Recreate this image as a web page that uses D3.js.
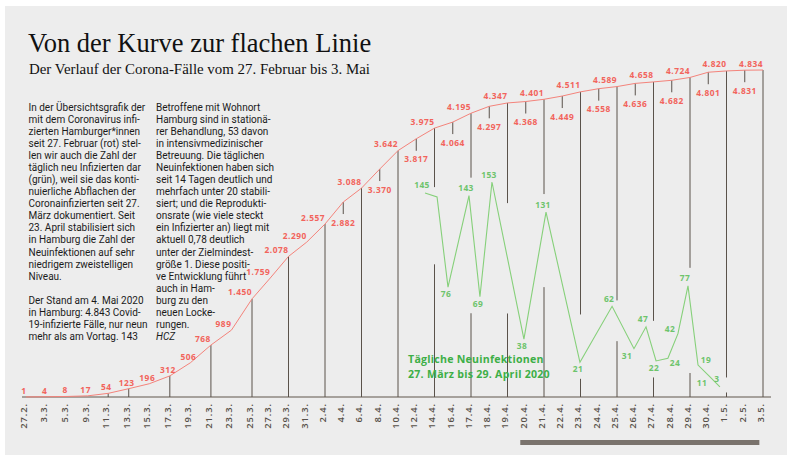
<!DOCTYPE html>
<html><head><meta charset="utf-8">
<script src="https://cdn.jsdelivr.net/npm/d3@7"></script>
<style>
html,body{margin:0;padding:0;background:#ffffff;}
svg{display:block;}
</style></head>
<body>
<svg id="chart" width="796" height="460"></svg>
<script>
// ---------- DATA ----------
const categories = ["27.2.","3.3.","5.3.","9.3.","11.3.","13.3.","15.3.","17.3.","19.3.","21.3.",
  "23.3.","25.3.","27.3.","29.3.","31.3.","2.4.","4.4.","6.4.","8.4.","10.4.",
  "12.4.","14.4.","16.4.","17.4.","18.4.","19.4.","20.4.","21.4.","22.4.","23.4.",
  "24.4.","25.4.","26.4.","27.4.","28.4.","29.4.","30.4.","1.5.","2.5.","3.5."];
const cumulative = [1,4,8,17,54,123,196,312,506,768,
  989,1450,1759,2078,2290,2557,2882,3088,3370,3642,
  3817,3975,4064,4195,4297,4347,4368,4401,4449,4511,
  4558,4589,4636,4658,4682,4724,4801,4820,4831,4834];
const dropLineDates = ["11.3.","13.3.","17.3.","21.3.","25.3.","29.3.","2.4.","6.4.","10.4.",
  "14.4.","17.4.","19.4.","21.4.","23.4.","25.4.","27.4.","29.4.","1.5.","3.5."];
const belowLabelDates = ["4.4.","8.4.","12.4.","16.4.","18.4.","20.4.","22.4.","24.4.",
  "26.4.","28.4.","30.4.","2.5."];
// daily new infections (green), position given in axis-category units
const greenValues = [145,142,76,143,69,153,38,131,21,62,31,47,22,24,42,77,19,11,3];
const greenPos    = [20.48,21.14,21.74,22.89,23.49,24.15,25.90,27.11,28.97,30.73,
  31.93,32.59,33.14,33.79,34.34,34.89,35.44,36.04,36.64];
const greenLabelPlace = ["n",null,"s","n","s","n","s","n","s","n","sw","n","s","se","nw","n","ne","sw","n"];

const titleText = "Von der Kurve zur flachen Linie";
const subtitleText = "Der Verlauf der Corona-Fälle vom 27. Februar bis 3. Mai";
const column1 = ["In der Übersichtsgrafik der","mit dem Coronavirus infi-","zierten Hamburger*innen",
  "seit 27. Februar (rot) stel-","len wir auch die Zahl der","täglich neu Infizierten dar",
  "(grün), weil sie das konti-","nuierliche Abflachen der","Coronainfizierten seit 27.",
  "März dokumentiert. Seit","23. April stabilisiert sich","in Hamburg die Zahl der",
  "Neuinfektionen auf sehr","niedrigem zweistelligen","Niveau.","",
  "Der Stand am 4. Mai 2020","in Hamburg: 4.843 Covid-","19-infizierte Fälle, nur neun","mehr als am Vortag. 143"];
const column2 = ["Betroffene mit Wohnort","Hamburg sind in stationä-","rer Behandlung, 53 davon",
  "in intensivmedizinischer","Betreuung. Die täglichen","Neuinfektionen haben sich",
  "seit 14 Tagen deutlich und","mehrfach unter 20 stabili-","siert; und die Reprodukti-",
  "onsrate (wie viele steckt","ein Infizierter an) liegt mit","aktuell 0,78 deutlich",
  "unter der Zielmindest-","größe 1. Diese positi-","ve Entwicklung führt","auch in Ham-",
  "burg zu den","neuen Locke-","rungen.","HCZ"];
const greenHeading = ["Tägliche Neuinfektionen","27. März bis 29. April 2020"];

// ---------- SETUP ----------
const svg = d3.select("#chart");
const RED = "#f2645c", RED_LINE = "#f4837b", GREEN = "#6ec46c", GREEN_LINE = "#86d07a",
      GREEN_HEAD = "#3daf47", DARK = "#5a524b", BG = "#ededed";
const numFmt = d3.formatLocale({decimal:",", thousands:".", grouping:[3], currency:["","€"]}).format(",d");

svg.append("rect").attr("x",5).attr("y",6).attr("width",782).attr("height",449).attr("fill",BG);

const x = d3.scaleLinear().domain([0, 11, 39]).range([26, 252, 763]);
const yRed = d3.scaleLinear().domain([0, 4834]).range([397, 70]);
const yGreen = d3.scaleLinear().domain([0, 153]).range([391, 182]);
const baseY = yRed(0);

// ---------- TEXT ----------
svg.append("text").attr("x",28).attr("y",52).text(titleText)
  .attr("font-family","'Liberation Serif', 'DejaVu Serif', serif").attr("font-size",26.5).attr("fill","#111");
svg.append("text").attr("x",29).attr("y",73.5).text(subtitleText)
  .attr("font-family","'Liberation Serif', 'DejaVu Serif', serif").attr("font-size",14.9).attr("fill","#111");

function column(lines, x0, italicLast){
  const g = svg.append("g").attr("font-family","Roboto, 'Liberation Sans', sans-serif")
    .attr("font-size",10).attr("fill","#1b1b1b");
  g.selectAll("text").data(lines).join("text")
    .attr("x",x0).attr("y",(d,i)=>110.7 + i*12.07)
    .attr("font-style",(d,i)=> italicLast && i===lines.length-1 ? "italic" : null)
    .text(d=>d);
}
column(column1, 28.5, false);
column(column2, 156, true);

// ---------- AXIS ----------
svg.append("line").attr("x1",x(0)-4).attr("x2",x(39)+8).attr("y1",baseY).attr("y2",baseY)
  .attr("stroke","#8e8780").attr("stroke-width",1.6);
const axis = d3.axisBottom(x).tickValues(d3.range(categories.length))
  .tickFormat(i=>categories[i]).tickSize(0);
const gAxis = svg.append("g").attr("transform",`translate(0,${baseY})`).call(axis);
gAxis.select(".domain").remove();
gAxis.selectAll("text")
  .attr("transform","rotate(-90)").attr("text-anchor","end")
  .attr("x",-6).attr("y",-3).attr("dy","0.36em")
  .attr("font-family","'Open Sans', sans-serif").attr("font-weight",600)
  .attr("font-size",9.4).attr("letter-spacing",0.9).attr("fill","#575049");

// bottom bar
svg.append("rect").attr("x",x(25.7)).attr("y",440).attr("width",x(38.8)-x(25.7)).attr("height",5).attr("fill","#7a736d");

// ---------- GREEN GEOMETRY (for gaps) ----------
const gPts = greenValues.map((v,i)=>[x(greenPos[i]), yGreen(v)]);
function greenYAt(px){
  for(let i=0;i<gPts.length-1;i++){
    const [x0,y0]=gPts[i],[x1,y1]=gPts[i+1];
    if(px>=x0 && px<=x1){ return y0 + (y1-y0)*(px-x0)/(x1-x0); }
  }
  return null;
}
const placeOff = {n:[-3,-8], s:[-2,6.5], sw:[-7,7], se:[7,4], nw:[-8,-5], ne:[8,-6]};

const gLabelData = greenValues.map((v,i)=>({v, i, place:greenLabelPlace[i]})).filter(d=>d.place);
gLabelData.forEach(d=>{
  const o = placeOff[d.place];
  d.cx = gPts[d.i][0]+o[0]; d.cy = gPts[d.i][1]+o[1];
  const w = String(d.v).length*5.1;
  d.x0 = d.cx - w/2; d.x1 = d.cx + w/2; d.y0 = d.cy-4; d.y1 = d.cy+4;
});

// ---------- VERTICAL LINES ----------
const gLines = svg.append("g").attr("stroke",DARK).attr("stroke-width",1);
dropLineDates.forEach(dt=>{
  const i = categories.indexOf(dt);
  const px = x(i), top = yRed(cumulative[i]);
  let ys = [];
  for(let s=px-10; s<=px+10; s+=0.5){ const yy = greenYAt(s); if(yy!==null) ys.push(yy); }
  gLabelData.forEach(d=>{ if(d.x1>px-2 && d.x0<px+2){ ys.push(d.y0, d.y1); } });
  if(ys.length){
    const gTop = d3.min(ys)-6, gBot = Math.min(d3.max(ys)+6, baseY);
    if(gTop>top) gLines.append("line").attr("x1",px).attr("x2",px).attr("y1",top).attr("y2",gTop);
    if(gBot<baseY) gLines.append("line").attr("x1",px).attr("x2",px).attr("y1",gBot).attr("y2",baseY);
  } else {
    gLines.append("line").attr("x1",px).attr("x2",px).attr("y1",top).attr("y2",baseY);
  }
});
belowLabelDates.forEach(dt=>{
  const i = categories.indexOf(dt);
  const px = x(i), top = yRed(cumulative[i]);
  gLines.append("line").attr("x1",px).attr("x2",px).attr("y1",top).attr("y2",top+12);
});

// ---------- RED LINE ----------
svg.append("path").datum(cumulative)
  .attr("d", d3.line().x((d,i)=>x(i)).y(d=>yRed(d)))
  .attr("fill","none").attr("stroke",RED_LINE).attr("stroke-width",1);

svg.append("g").attr("font-family","'Open Sans', sans-serif").attr("font-weight",700)
  .attr("font-size",8.4).attr("letter-spacing",0.5).attr("fill",RED)
  .selectAll("text").data(cumulative).join("text")
  .each(function(d,i){
    const t = d3.select(this);
    const px = x(i), py = yRed(d);
    if(belowLabelDates.includes(categories[i])){
      t.attr("x",px).attr("y",py+20).attr("text-anchor","middle");
    } else if(i<=8){
      t.attr("x",px-2).attr("y",py-6.5).attr("text-anchor","middle");
    } else {
      t.attr("x",px).attr("y",py-7).attr("text-anchor","end");
    }
  })
  .attr("dominant-baseline","central")
  .text(d=>numFmt(d));

// ---------- GREEN LINE ----------
svg.append("path").datum(greenValues)
  .attr("d", d3.line().x((d,i)=>x(greenPos[i])).y(d=>yGreen(d)))
  .attr("fill","none").attr("stroke",GREEN_LINE).attr("stroke-width",1.1);

svg.append("g").attr("font-family","'Open Sans', sans-serif").attr("font-weight",700)
  .attr("font-size",8.4).attr("letter-spacing",0.4).attr("fill",GREEN)
  .selectAll("text").data(gLabelData).join("text")
  .attr("x",d=>d.cx).attr("y",d=>d.cy).attr("text-anchor","middle")
  .attr("dominant-baseline","central").text(d=>d.v);

svg.append("g").attr("font-family","'Open Sans', sans-serif").attr("font-weight",700)
  .attr("font-size",10.6).attr("letter-spacing",0.25).attr("fill",GREEN_HEAD)
  .selectAll("text").data(greenHeading).join("text")
  .attr("x",408).attr("y",(d,i)=>363 + i*14.5).text(d=>d);
</script>
</body></html>
